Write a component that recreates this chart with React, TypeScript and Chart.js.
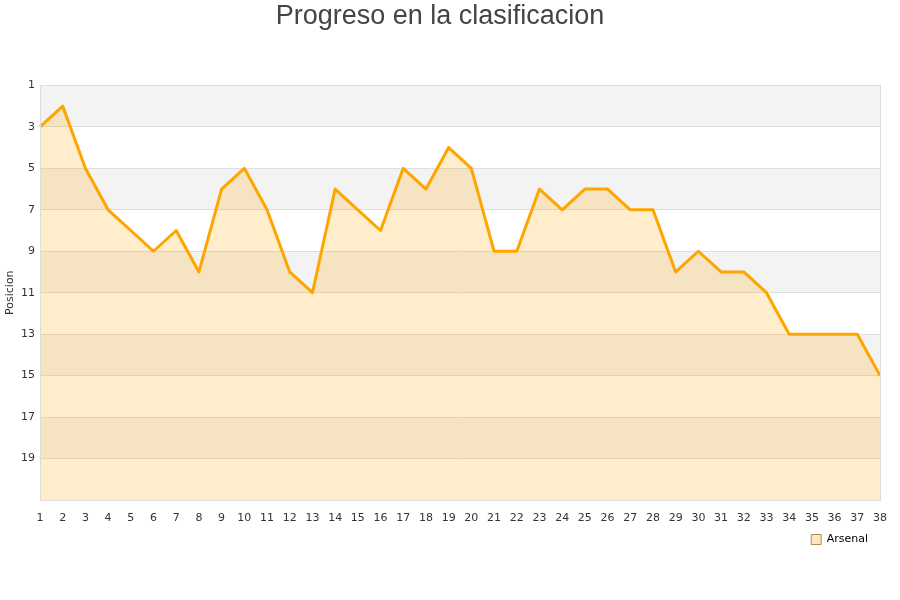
import { useEffect, useRef } from "react";
import { Chart, registerables } from "chart.js";

Chart.register(...registerables);

// jornadas 1..38
const jornadas: string[] = [
   "1", "2", "3", "4", "5", "6", "7", "8", "9", "10",
   "11", "12", "13", "14", "15", "16", "17", "18", "19", "20",
   "21", "22", "23", "24", "25", "26", "27", "28", "29", "30",
   "31", "32", "33", "34", "35", "36", "37", "38",
];

const arsenalPosicion: number[] = [
   3, 2, 5, 7, 8, 9, 8, 10, 6, 5,
   7, 10, 11, 6, 7, 8, 5, 6, 4, 5,
   9, 9, 6, 7, 6, 6, 7, 7, 10, 9,
   10, 10, 11, 13, 13, 13, 13, 15,
];

const yTickLabels: number[] = [1, 3, 5, 7, 9, 11, 13, 15, 17, 19];

// grey band on every other interval between labelled ticks
const bandsPlugin = {
   id: "bands",
   beforeDraw(chart: Chart) {
      const { ctx, chartArea } = chart;
      const y = chart.scales.y;
      if (!chartArea || !y) return;
      ctx.save();
      ctx.fillStyle = "#f3f3f3";
      for (let i = 0; i < yTickLabels.length; i += 2) {
         const y1 = y.getPixelForValue(yTickLabels[i]);
         const y2 = y.getPixelForValue(yTickLabels[i] + 2);
         ctx.fillRect(chartArea.left, Math.min(y1, y2), chartArea.right - chartArea.left, Math.abs(y2 - y1));
      }
      ctx.restore();
   },
   afterDatasetsDraw(chart: Chart) {
      const { ctx, chartArea } = chart;
      ctx.save();
      ctx.strokeStyle = "#dddddd";
      ctx.lineWidth = 1;
      ctx.strokeRect(
         Math.round(chartArea.left) + 0.5,
         Math.round(chartArea.top) + 0.5,
         Math.round(chartArea.right - chartArea.left),
         Math.round(chartArea.bottom - chartArea.top)
      );
      ctx.restore();
   },
};

export default function App() {
   const canvasRef = useRef<HTMLCanvasElement | null>(null);
   const chartRef = useRef<Chart | null>(null);

   useEffect(() => {
      document.body.style.margin = "0";
      if (!canvasRef.current) return;
      chartRef.current?.destroy();

      Chart.defaults.font.family = "'DejaVu Sans', sans-serif";

      chartRef.current = new Chart(canvasRef.current, {
         type: "line",
         data: {
            labels: jornadas,
            datasets: [
               {
                  label: "Arsenal",
                  data: arsenalPosicion,
                  borderColor: "#ffa500",
                  backgroundColor: "rgba(255,165,0,0.2)",
                  borderWidth: 3,
                  borderJoinStyle: "round",
                  tension: 0,
                  pointRadius: 0,
                  fill: "start",
               },
            ],
         },
         options: {
            animation: false,
            responsive: true,
            maintainAspectRatio: false,
            layout: { padding: { left: 0, right: 20, top: 0, bottom: 45 } },
            scales: {
               x: {
                  offset: false,
                  grid: { display: false },
                  border: { display: true, color: "#dddddd" },
                  ticks: {
                     autoSkip: false,
                     maxRotation: 0,
                     color: "#333",
                     font: { size: 11 },
                     padding: 4,
                  },
                  afterFit: (scale: any) => {
                     scale.height = 22;
                  },
               },
               y: {
                  reverse: true,
                  min: 1,
                  max: 21,
                  grid: { color: "#dedede", drawTicks: false },
                  border: { display: true, color: "#dddddd" },
                  ticks: {
                     stepSize: 2,
                     color: "#333",
                     font: { size: 11 },
                     padding: 5,
                     callback: (v: any) => (yTickLabels.includes(Number(v)) ? String(v) : ""),
                  },
                  title: {
                     display: true,
                     text: "Posicion",
                     color: "#333",
                     font: { size: 11 },
                     padding: { top: 4, bottom: 0 },
                  },
                  afterFit: (scale: any) => {
                     scale.width = 40;
                  },
               },
            },
            plugins: {
               title: {
                  display: true,
                  text: "Progreso en la clasificacion",
                  color: "#444",
                  font: { family: "'Liberation Sans', Arial, sans-serif", size: 27, weight: "normal" },
                  padding: { top: 0, bottom: 53 },
               },
               legend: {
                  position: "bottom",
                  align: "end",
                  labels: {
                     boxWidth: 10,
                     boxHeight: 10,
                     color: "#111",
                     font: { size: 11 },
                     padding: 12,
                     generateLabels: (chart: Chart) =>
                        chart.data.datasets.map((ds, i) => ({
                           text: ds.label as string,
                           fillStyle: "#fde6c0",
                           strokeStyle: "#b08a5a",
                           lineWidth: 1,
                           hidden: false,
                           datasetIndex: i,
                        })),
                  },
               },
               tooltip: { enabled: false },
            },
         },
         plugins: [bandsPlugin],
      });

      return () => {
         chartRef.current?.destroy();
      };
   }, []);

   return (
      <div style={{ width: 900, height: 600, position: "relative" }}>
         <canvas ref={canvasRef} />
      </div>
   );
}
